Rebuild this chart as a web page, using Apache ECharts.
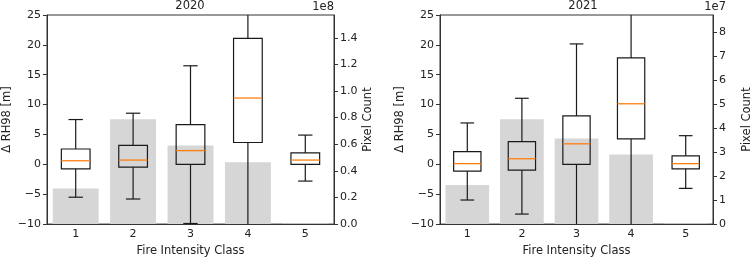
<!DOCTYPE html>
<html>
<head>
<meta charset="utf-8">
<script src="https://cdn.jsdelivr.net/npm/echarts@6/dist/echarts.min.js"></script>
<style>
    html, body { margin: 0; padding: 0; background: #fff; }
    #chart { width: 754px; height: 262px; }
</style>
</head>
<body>
<div id="chart"></div>
<script>
// 数据
var classes = ['1', '2', '3', '4', '5'];

// [low whisker, q1, median, q3, high whisker]  (ΔRH98, m)
var box2020 = [
    [-5.5, -0.75, 0.6, 2.57, 7.5],
    [-5.8, -0.48, 0.72, 3.17, 8.56],
    [-9.9, 0.0, 2.3, 6.65, 16.5],
    [-12, 3.66, 11.1, 21.1, 28],
    [-2.8, 0.0, 0.72, 1.92, 4.9]
];
var box2021 = [
    [-5.97, -1.13, 0.12, 2.14, 6.93],
    [-8.32, -0.97, 0.94, 3.82, 11.06],
    [-11, 0.0, 3.44, 8.12, 20.16],
    [-12, 4.26, 10.14, 17.81, 28],
    [-4.02, -0.75, 0.12, 1.43, 4.8]
];

// pixel count
var count2020 = [0.268e8, 0.787e8, 0.591e8, 0.464e8, 0.004e8];
var count2021 = [1.63e7, 4.37e7, 3.57e7, 2.90e7, 0.02e7];

var rhTicks = { min: -10, max: 25, interval: 5 };

var fontFamily = 'DejaVu Sans';
var textColor = '#222';
var lineColor = '#333';

//负号
function minus(v) {
    return v < 0 ? '\u2212' + Math.abs(v) : String(v);
}

//箱线图
function renderBox(params, api) {
    var idx = api.value(0);
    var band = api.size([1, 0])[0];
    var half = band * 0.25;
    var cap = band * 0.125;
    var pLow = api.coord([idx, api.value(1)]);
    var pQ1 = api.coord([idx, api.value(2)]);
    var pMed = api.coord([idx, api.value(3)]);
    var pQ3 = api.coord([idx, api.value(4)]);
    var pHigh = api.coord([idx, api.value(5)]);
    var x = pMed[0];
    var st = { stroke: '#1a1a1a', lineWidth: 1.2, fill: null };
    return {
        type: 'group',
        children: [
            { type: 'rect', shape: { x: x - half, y: pQ3[1], width: half * 2, height: pQ1[1] - pQ3[1] }, style: st },
            { type: 'line', shape: { x1: x, y1: pQ3[1], x2: x, y2: pHigh[1] }, style: st },
            { type: 'line', shape: { x1: x, y1: pQ1[1], x2: x, y2: pLow[1] }, style: st },
            { type: 'line', shape: { x1: x - cap, y1: pHigh[1], x2: x + cap, y2: pHigh[1] }, style: st },
            { type: 'line', shape: { x1: x - cap, y1: pLow[1], x2: x + cap, y2: pLow[1] }, style: st },
            { type: 'line', shape: { x1: x - half, y1: pMed[1], x2: x + half, y2: pMed[1] }, style: { stroke: '#ff7f0e', lineWidth: 1.3 } }
        ]
    };
}

function boxData(arr) {
    return arr.map(function(d, i) {
        return [i].concat(d);
    });
}

function xAxisOf(grid) {
    return {
        type: 'category',
        gridIndex: grid,
        data: classes,
        name: 'Fire Intensity Class',
        nameLocation: 'middle',
        nameGap: 19,
        nameTextStyle: { fontSize: 11.5, color: textColor, fontFamily: fontFamily },
        axisLine: { onZero: false, lineStyle: { color: lineColor } },
        axisTick: { alignWithLabel: true, length: 4, lineStyle: { color: lineColor } },
        axisLabel: { fontSize: 11, color: textColor, fontFamily: fontFamily, margin: 5 },
        splitLine: { show: false }
    };
}

function leftAxisOf(grid) {
    return {
        type: 'value',
        gridIndex: grid,
        position: 'left',
        min: rhTicks.min,
        max: rhTicks.max,
        interval: rhTicks.interval,
        name: '\u0394 RH98 [m]',
        nameLocation: 'middle',
        nameGap: 34,
        nameTextStyle: { fontSize: 11.5, color: textColor, fontFamily: fontFamily },
        axisLine: { show: true, onZero: false, lineStyle: { color: lineColor } },
        axisTick: { show: true, length: 4, lineStyle: { color: lineColor } },
        axisLabel: { fontSize: 11, color: textColor, fontFamily: fontFamily, margin: 6, formatter: minus },
        splitLine: { show: false }
    };
}

function rightAxisOf(grid, max, interval, scale, digits) {
    return {
        type: 'value',
        gridIndex: grid,
        position: 'right',
        min: 0,
        max: max,
        interval: interval,
        name: 'Pixel Count',
        nameLocation: 'middle',
        nameGap: 28,
        nameTextStyle: { fontSize: 11.5, color: textColor, fontFamily: fontFamily },
        axisLine: { show: true, onZero: false, lineStyle: { color: lineColor } },
        axisTick: { show: true, length: 4, lineStyle: { color: lineColor } },
        axisLabel: {
            fontSize: 11, color: textColor, fontFamily: fontFamily, margin: 6,
            showMaxLabel: false,
            formatter: function(v) {
                return (v / scale).toFixed(digits);
            }
        },
        splitLine: { show: false }
    };
}

//坐标轴倍数标注
function offsetText(text, x) {
    return {
        type: 'text',
        x: x,
        y: 1,
        style: {
            text: text,
            align: 'right',
            verticalAlign: 'top',
            fontSize: 11.5,
            fontFamily: fontFamily,
            fill: textColor
        }
    };
}

var chart = echarts.init(document.getElementById('chart'));

var titleStyle = { fontSize: 11.5, fontWeight: 'normal', color: textColor, fontFamily: fontFamily };

var option = {
    animation: false,
    backgroundColor: '#fff',
    title: [
        { text: '2020', left: 190, top: 0, padding: 0, textAlign: 'center', textStyle: titleStyle },
        { text: '2021', left: 583, top: 0, padding: 0, textAlign: 'center', textStyle: titleStyle }
    ],
    graphic: [
        offsetText('1e8', 334),
        offsetText('1e7', 726)
    ],
    grid: [
        { left: 47, right: 420, top: 15, bottom: 33, show: true, borderColor: lineColor, borderWidth: 1, backgroundColor: 'transparent' },
        { left: 440, right: 28, top: 15, bottom: 33, show: true, borderColor: lineColor, borderWidth: 1, backgroundColor: 'transparent' }
    ],
    xAxis: [xAxisOf(0), xAxisOf(1)],
    yAxis: [
        leftAxisOf(0),
        rightAxisOf(0, 1.571e8, 0.2e8, 1e8, 1),
        leftAxisOf(1),
        rightAxisOf(1, 8.72e7, 1e7, 1e7, 0)
    ],
    series: [
        {
            type: 'bar', xAxisIndex: 0, yAxisIndex: 1, data: count2020,
            barWidth: '80%', itemStyle: { color: '#d6d6d6' }, z: 1
        },
        {
            type: 'bar', xAxisIndex: 1, yAxisIndex: 3, data: count2021,
            barWidth: '80%', itemStyle: { color: '#d6d6d6' }, z: 1
        },
        {
            type: 'custom', xAxisIndex: 0, yAxisIndex: 0, clip: true,
            data: boxData(box2020), renderItem: renderBox,
            encode: { x: 0, y: [1, 2, 3, 4, 5] }, z: 5
        },
        {
            type: 'custom', xAxisIndex: 1, yAxisIndex: 2, clip: true,
            data: boxData(box2021), renderItem: renderBox,
            encode: { x: 0, y: [1, 2, 3, 4, 5] }, z: 5
        }
    ]
};

chart.setOption(option);
</script>
</body>
</html>
